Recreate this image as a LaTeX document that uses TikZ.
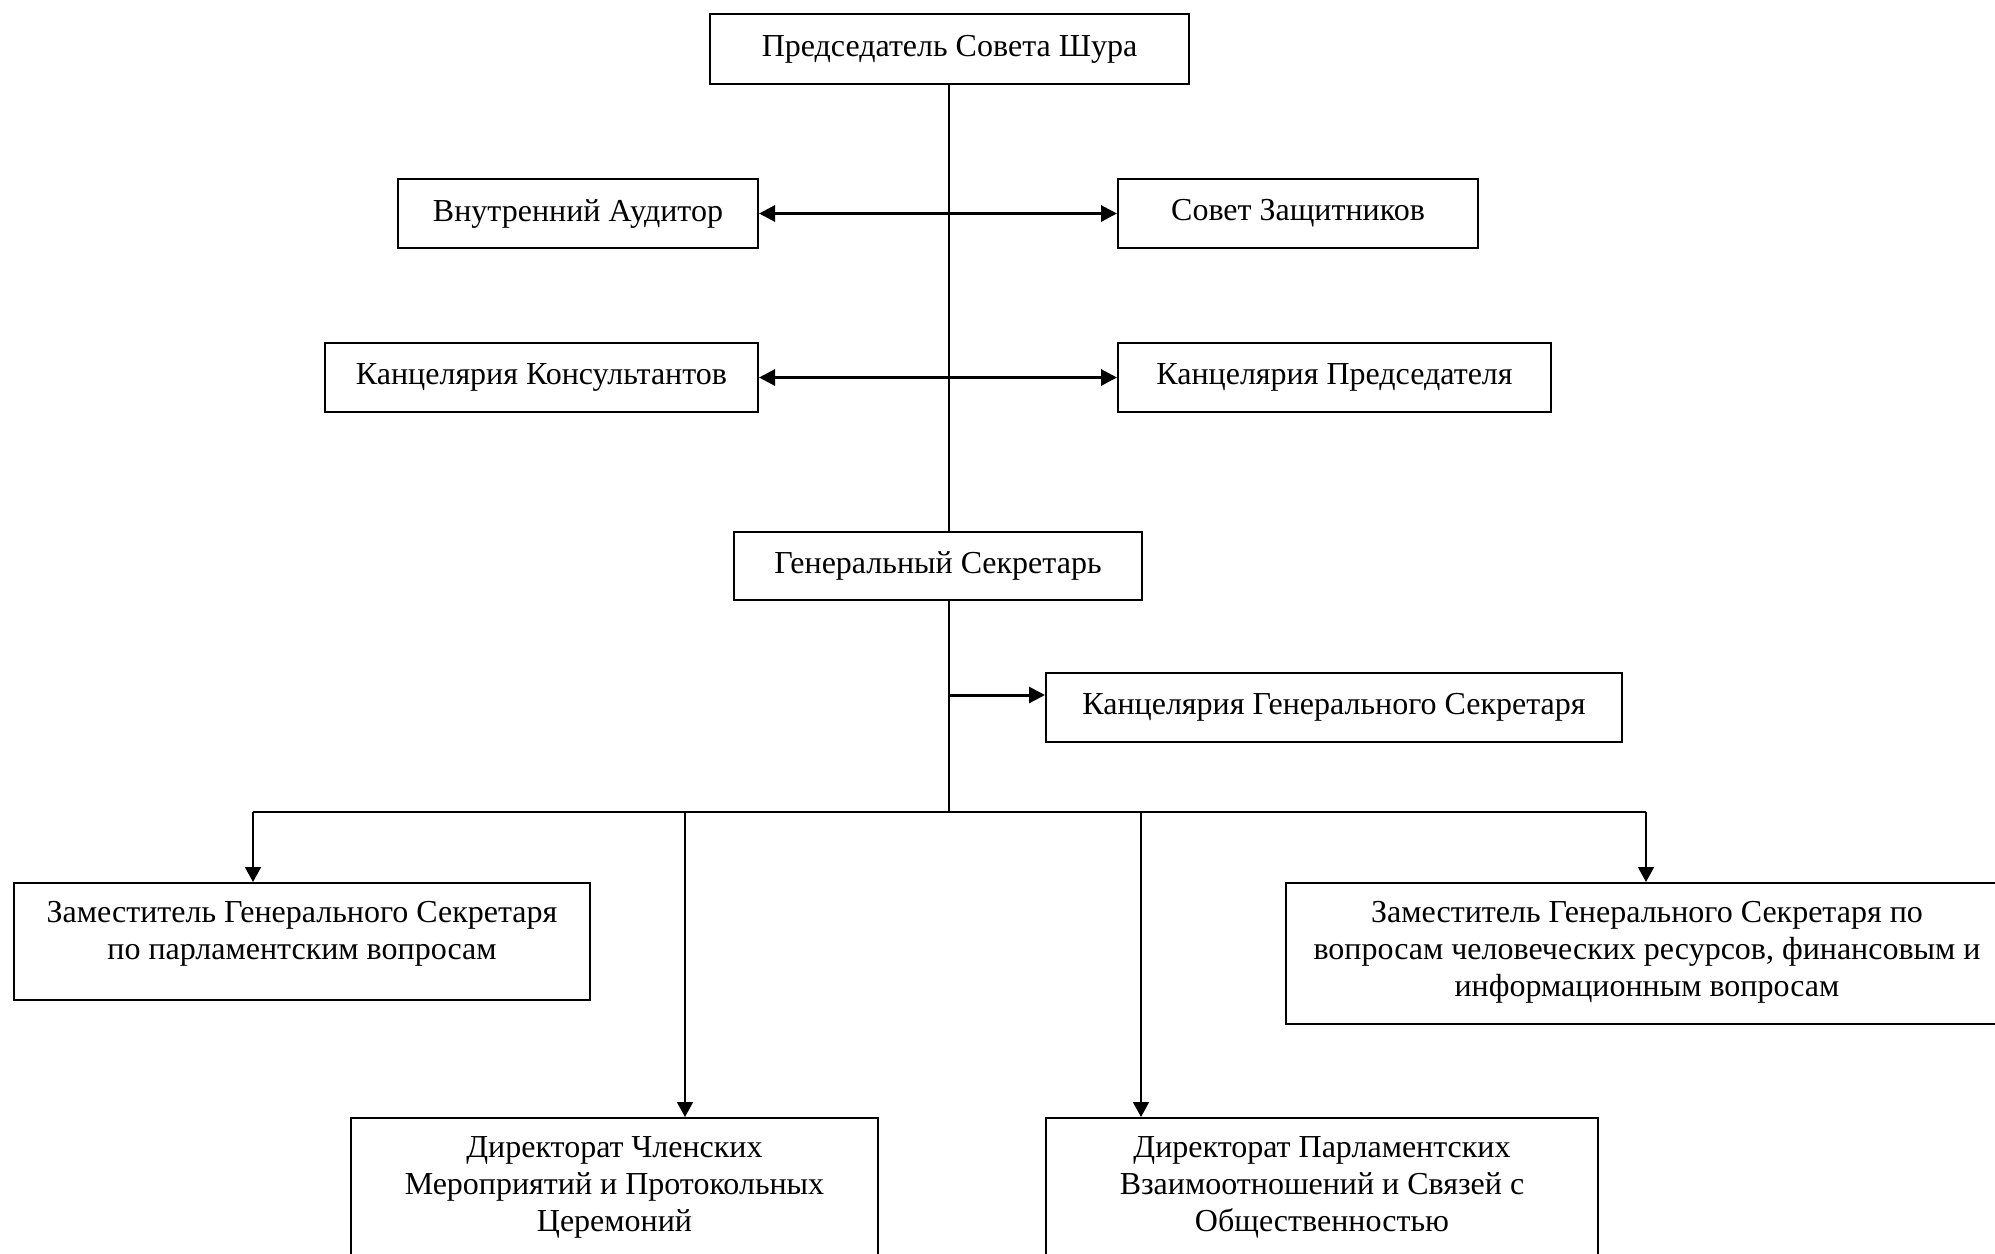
\documentclass[tikz,border=0pt]{standalone}
\usepackage{fontspec}
\setmainfont{Liberation Serif}
\usetikzlibrary{arrows.meta}
\tikzset{
  box/.style={draw, line width=1pt, rectangle, inner sep=0pt, anchor=north west, font=\fontsize{16}{18.5}\selectfont},
  txt/.style={align=center, inner sep=0pt, anchor=north, font=\fontsize{16}{18.5}\selectfont},
  trunk/.style={line width=0.75pt},
  busline/.style={line width=1pt},
  dbl/.style={line width=1.5pt, {Triangle[length=8pt,width=8pt]}-{Triangle[length=8pt,width=8pt]}},
  sgl/.style={line width=1.5pt, -{Triangle[length=8pt,width=8pt]}},
  down/.style={line width=0.85pt, -{Triangle[length=7.5pt,width=8pt]}}
}
\begin{document}
\begin{tikzpicture}[x=0.5pt,y=-0.5pt]
\useasboundingbox (0,0) rectangle (1995,1253);
\clip (0,0) rectangle (1995,1253);
\node[box, minimum width=239.5pt, minimum height=35pt] (top) at (709,13) {Председатель Совета Шура};
\node[box, minimum width=180pt, minimum height=34.5pt] (aud) at (397,178) {Внутренний Аудитор};
\node[box, minimum width=180pt, minimum height=34.5pt] (sov) at (1117,178) {Совет Защитников};
\node[box, minimum width=216.5pt, minimum height=34.5pt] (kons) at (324,342) {Канцелярия Консультантов};
\node[box, minimum width=216.5pt, minimum height=34.5pt] (kpred) at (1117,342) {Канцелярия Председателя};
\node[box, minimum width=204pt, minimum height=34pt] (gs) at (733,531) {Генеральный Секретарь};
\node[box, minimum width=288pt, minimum height=34.5pt] (kgs) at (1045,672) {Канцелярия Генерального Секретаря};
\node[box, minimum width=288pt, minimum height=58.5pt] (dep1) at (13,882) {};
\node[box, minimum width=361pt, minimum height=70.5pt] (dep2) at (1285,882) {};
\node[box, minimum width=263.5pt, minimum height=91.5pt] (dir1) at (350,1117) {};
\node[box, minimum width=276pt, minimum height=91.5pt] (dir2) at (1045,1117) {};
\node[txt] (dep1t) at ([yshift=-9.5pt]dep1.north) {Заместитель Генерального Секретаря\\по парламентским вопросам};
\node[txt] (dep2t) at ([yshift=-9.5pt]dep2.north) {Заместитель Генерального Секретаря по\\вопросам человеческих ресурсов, финансовым и\\информационным вопросам};
\node[txt] (dir1t) at ([yshift=-9.5pt]dir1.north) {Директорат Членских\\Мероприятий и Протокольных\\Церемоний};
\node[txt] (dir2t) at ([yshift=-9.5pt]dir2.north) {Директорат Парламентских\\Взаимоотношений и Связей с\\Общественностью};
\coordinate (tr) at (949,83);
\coordinate (kgsin) at (949,695);
\coordinate (busc) at (949,812);
\coordinate (bl) at (253,812);
\coordinate (br) at (1646,812);
\coordinate (b2) at (685,812);
\coordinate (b3) at (1141,812);
\draw[trunk] (tr) -- (tr |- gs.north);
\draw[trunk] (tr |- gs.south) -- (busc);
\draw[dbl] (aud.east) -- (sov.west);
\draw[dbl] (kons.east) -- (kpred.west);
\draw[sgl] (kgsin) -- (kgs.west |- kgsin);
\draw[busline] (bl) -- (br);
\draw[down] (bl) -- (bl |- dep1.north);
\draw[down] (br) -- (br |- dep2.north);
\draw[down] (b2) -- (b2 |- dir1.north);
\draw[down] (b3) -- (b3 |- dir2.north);
\end{tikzpicture}
\end{document}
